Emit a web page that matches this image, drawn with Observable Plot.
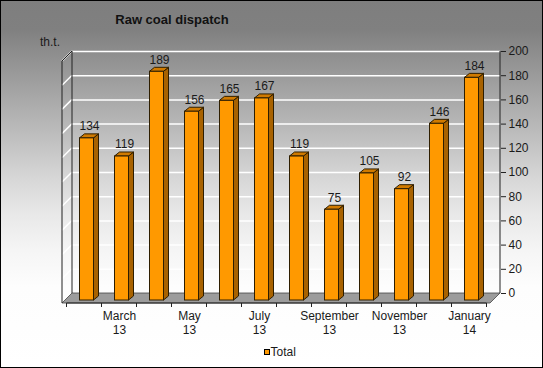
<!DOCTYPE html>
<html><head><meta charset="utf-8">
<script src="https://cdn.jsdelivr.net/npm/d3@7"></script>
<script src="https://cdn.jsdelivr.net/npm/@observablehq/plot@0.6"></script>
<style>body{margin:0;background:#fff;}</style>
</head><body>
<div id="chart"></div>
<script>
const months = ["Feb 13","Mar 13","Apr 13","May 13","Jun 13","Jul 13","Aug 13","Sep 13","Oct 13","Nov 13","Dec 13","Jan 14"];
const values = [134,119,189,156,165,167,119,75,105,92,146,184];
const tickLabels = ["","March\n13","","May\n13","","July\n13","","September\n13","","November\n13","","January\n14"];
const yTicks = [0,20,40,60,80,100,120,140,160,180,200];
const seriesName = "Total";
const titleText = "Raw coal dispatch";
const unitText = "th.t.";

const data = months.map((m,i)=>({month:m, value:values[i]}));
const labelMap = new Map(months.map((m,i)=>[m, tickLabels[i]]));

const DX = -10, DY = 10;       // depth of floor / walls
const BDX = -7.5, BDY = 7;     // bar front-plane offset
const SX = 5, SY = -4;         // bar thickness
const ORANGE = "#ff9900", SIDE = "#a86200", TOP = "#d07a00", EDGE = "#2e1e00";
const bgStops = [[0,"#7e7e7e"],[0.08,"#808080"],[0.22,"#9e9e9e"],[0.36,"#bcbcbc"],[0.48,"#d6d6d6"],[0.58,"#e8e8e8"],[0.68,"#f5f5f5"],[0.78,"#fdfdfd"],[1,"#ffffff"]];

function background(index, scales, values, dim) {
  const g = d3.create("svg:g");
  const lgd = g.append("defs").append("linearGradient").attr("id", "bggrad")
    .attr("x1", 0).attr("y1", 0).attr("x2", 0).attr("y2", 1);
  for (const [o, c] of bgStops) lgd.append("stop").attr("offset", o).attr("stop-color", c);
  g.append("rect").attr("x", 0).attr("y", 0).attr("width", dim.width).attr("height", dim.height)
    .attr("fill", "url(#bggrad)");
  return g.node();
}

function walls(index, scales, values, dim) {
  const g = d3.create("svg:g");
  const x0 = dim.marginLeft, x1 = dim.width - dim.marginRight;
  const y0 = scales.y(0), yTop = scales.y(200);
  g.append("path")
    .attr("d", `M${x0},${y0}L${x1},${y0}L${x1+DX},${y0+DY}L${x0+DX},${y0+DY}Z`)
    .attr("fill", "#9c9c9c").attr("stroke", "#444").attr("stroke-width", 0.8);
  for (const t of yTicks) {
    if (t === 0) continue;
    const y = scales.y(t);
    g.append("line").attr("x1", x0).attr("y1", y).attr("x2", x0+DX).attr("y2", y+DY)
      .attr("stroke", "#fff").attr("stroke-width", 1.5);
  }
  g.append("path")
    .attr("d", `M${x0},${y0}L${x0},${yTop}L${x0+DX},${yTop+DY}L${x0+DX},${y0+DY}`)
    .attr("fill", "none").attr("stroke", "#222").attr("stroke-width", 1);
  g.append("line").attr("x1", x1).attr("y1", yTop).attr("x2", x1).attr("y2", y0)
    .attr("stroke", "#222").attr("stroke-width", 1);
  const bw = scales.x.bandwidth(), step = scales.x.step();
  const starts = months.map(m => scales.x(m) - (step - bw)/2);
  starts.push(starts[starts.length-1] + step);
  const ya = y0 + DY;
  g.append("line").attr("x1", starts[0]+DX).attr("y1", ya).attr("x2", starts[starts.length-1]+DX).attr("y2", ya)
    .attr("stroke", "#222");
  for (const s of starts) {
    g.append("line").attr("x1", s+DX).attr("y1", ya).attr("x2", s+DX).attr("y2", ya+4).attr("stroke", "#222");
  }
  return g.node();
}

function barSides(index, scales) {
  const g = d3.create("svg:g").attr("stroke", EDGE).attr("stroke-width", 1).attr("stroke-linejoin", "round");
  const bw = scales.x.bandwidth();
  for (const d of data) {
    const xl = scales.x(d.month) + BDX, xr = xl + bw;
    const yt = scales.y(d.value) + BDY, yb = scales.y(0) + BDY;
    g.append("path").attr("fill", SIDE)
      .attr("d", `M${xr},${yb}L${xr+SX},${yb+SY}L${xr+SX},${yt+SY}L${xr},${yt}Z`);
    g.append("path").attr("fill", TOP)
      .attr("d", `M${xl},${yt}L${xl+SX},${yt+SY}L${xr+SX},${yt+SY}L${xr},${yt}Z`);
  }
  return g.node();
}

const plot = Plot.plot({
  width: 543, height: 368,
  marginLeft: 72, marginRight: 43, marginTop: 51, marginBottom: 75,
  style: {
    background: "#ffffff",
    fontFamily: "'Liberation Sans', Arial, sans-serif",
    fontSize: "12px", color: "#1a1a1a"
  },
  x: {domain: months, paddingInner: 0.61, paddingOuter: 0.305, axis: null, label: null},
  y: {domain: [0, 200], axis: null, label: null},
  marks: [
    background,
    Plot.gridY(yTicks, {stroke: "#fff", strokeOpacity: 1, strokeWidth: 1.5}),
    walls,
    Plot.axisY(yTicks, {anchor: "right", label: null, tickSize: 5, tickPadding: 3, fontSize: 12, stroke: "#222", fill: "#1a1a1a"}),
    Plot.axisX({anchor: "bottom", label: null, tickSize: 0, tickPadding: 7.5, dx: DX, dy: DY, fontSize: 12, lineHeight: 1.1,
      tickFormat: d => labelMap.get(d), fill: "#1a1a1a"}),
    barSides,
    Plot.barY(data, {x: "month", y: "value", dx: BDX, dy: BDY, fill: ORANGE, stroke: EDGE, strokeWidth: 1}),
    Plot.text(data, {x: "month", y: "value", text: d => String(d.value), dx: BDX + 2.5, dy: -5, fontSize: 12, fill: "#1a1a1a"})
  ]
});

const svg = d3.select(plot);
svg.append("rect").attr("x", 0.5).attr("y", 0.5).attr("width", 542).attr("height", 367)
  .attr("fill", "none").attr("stroke", "#000");
svg.append("text").attr("x", 172).attr("y", 24).attr("text-anchor", "middle")
  .attr("font-weight", "bold").attr("font-size", 13).attr("fill", "#111").text(titleText);
svg.append("text").attr("x", 40).attr("y", 46).attr("text-anchor", "start")
  .attr("font-size", 12).attr("fill", "#1a1a1a").text(unitText);
const lg = svg.append("g");
lg.append("rect").attr("x", 264.5).attr("y", 349.5).attr("width", 5).attr("height", 5)
  .attr("fill", ORANGE).attr("stroke", "#000");
lg.append("text").attr("x", 270.5).attr("y", 355.5).attr("text-anchor", "start")
  .attr("font-size", 12).attr("fill", "#1a1a1a").text(seriesName);

document.getElementById("chart").appendChild(plot);
</script>
</body></html>
